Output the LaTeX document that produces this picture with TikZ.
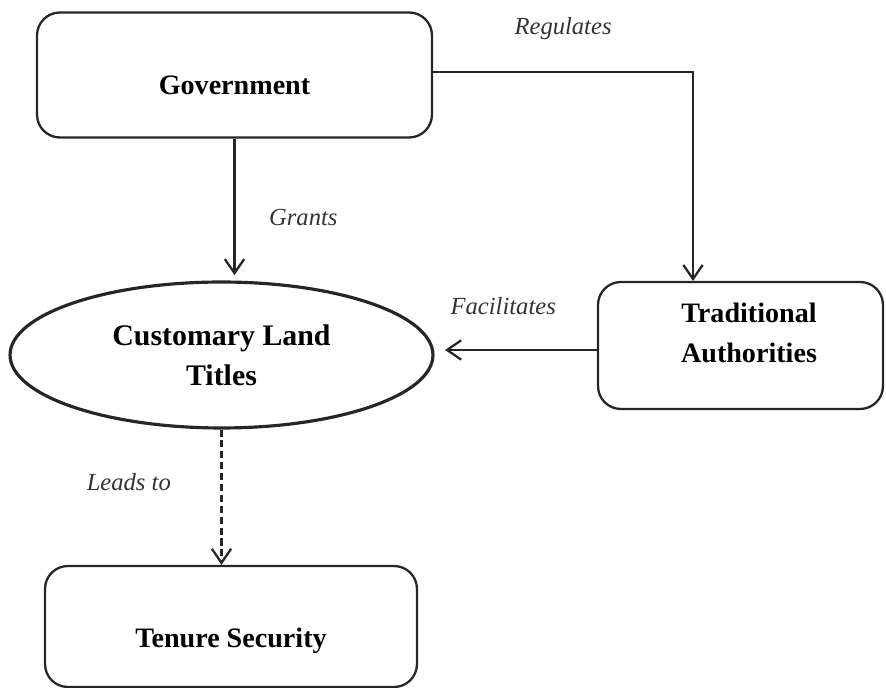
\documentclass[tikz,border=0pt]{standalone}
\usepackage{fontspec}
\setmainfont{Liberation Serif}
\usetikzlibrary{arrows.meta,positioning,shapes.geometric}
\tikzstyle{every node}=[font=\fontsize{16}{20}\selectfont]
\tikzstyle{actor}=[rectangle, rounded corners=13pt, draw=black!85, line width=1.3pt, align=center, font=\fontsize{16}{23}\selectfont\bfseries]
\tikzstyle{titles}=[ellipse, draw=black!85, line width=1.8pt, inner sep=0pt, align=center, font=\fontsize{17}{23}\selectfont\bfseries]
\tikzstyle{relation}=[font=\fontsize{14}{16}\selectfont\itshape, text=black!80, inner sep=2pt]
\tikzstyle{flow}=[draw=black!85, line width=1.3pt, -{Straight Barb[length=8pt, width=11pt, line width=1.3pt]}]

\begin{document}
\begin{tikzpicture}[x=0.02cm, y=-0.02cm]
	
	\useasboundingbox (0,0) rectangle (886,688);
	
	\node[actor, minimum width=7.9cm, minimum height=2.5cm, text height=22pt, text depth=0pt] at (234.5, 75) (gov) {Government};
	
	\node[titles, minimum width=8.46cm, minimum height=2.92cm] at (221.5, 355) (clt) {Customary Land\\Titles};
	
	\node[actor, minimum width=5.7cm, minimum height=2.54cm] at (740.5, 345.5) (trad) {};
	\node[font=\fontsize{16}{23}\selectfont\bfseries, align=center] at (749, 333) (tradtext) {Traditional\\Authorities};
	
	\node[actor, minimum width=7.44cm, minimum height=2.42cm, text height=24pt, text depth=0pt] at (231, 626.5) (ts) {Tenure Security};
	
	\coordinate (regend) at (693, 281);
	
	% government relations
	\draw[flow] (gov.east |- 0,72) -| node[relation, pos=0.25, above=0.56cm] {Regulates} (regend);
	\draw[flow, shorten >=3pt] (gov.south) -- node[relation, right=0.6cm, yshift=-0.15cm] {Grants} (gov.south |- clt.north);
	
	\draw[flow, shorten >=6pt] (trad.west |- 0,350) -- node[relation, above=0.62cm, xshift=-0.25cm] {Facilitates} (clt.east |- 0,350);
	
	\draw[flow, dash pattern=on 4pt off 2.2pt] (clt.south) -- node[relation, left=0.92cm, yshift=0.3cm] {Leads to} (clt.south |- ts.north);
	
\end{tikzpicture}
\end{document}
